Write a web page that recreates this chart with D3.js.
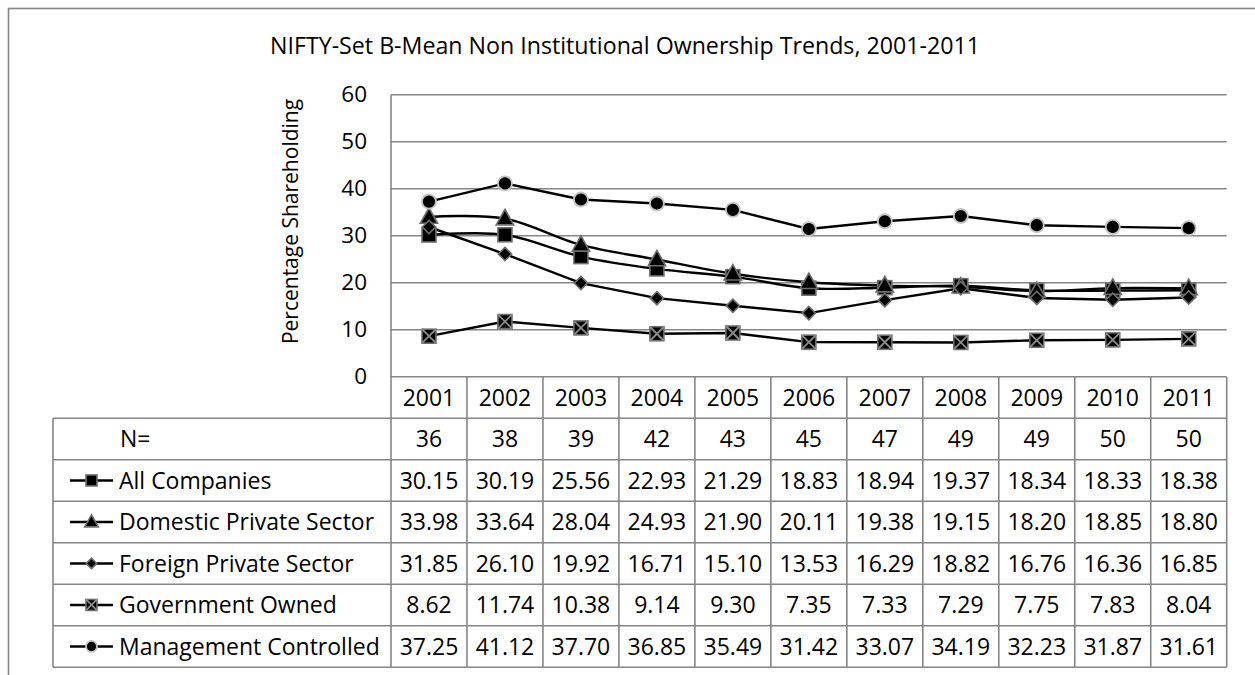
<!DOCTYPE html>
<html>
<head>
<meta charset="utf-8">
<script src="https://cdn.jsdelivr.net/npm/d3@7"></script>
<style>
  html, body { margin: 0; padding: 0; background: #fff; }
  svg { display: block; font-family: "Open Sans", "Noto Sans", sans-serif; }
</style>
</head>
<body>
<svg id="chart" width="1255" height="675"></svg>
<script>
// ---- data ----
const years = ["2001","2002","2003","2004","2005","2006","2007","2008","2009","2010","2011"];
const counts = [36, 38, 39, 42, 43, 45, 47, 49, 49, 50, 50];

const allCompanies   = [30.15, 30.19, 25.56, 22.93, 21.29, 18.83, 18.94, 19.37, 18.34, 18.33, 18.38];
const domesticPriv   = [33.98, 33.64, 28.04, 24.93, 21.90, 20.11, 19.38, 19.15, 18.20, 18.85, 18.80];
const foreignPriv    = [31.85, 26.10, 19.92, 16.71, 15.10, 13.53, 16.29, 18.82, 16.76, 16.36, 16.85];
const governmentOwn  = [8.62, 11.74, 10.38, 9.14, 9.30, 7.35, 7.33, 7.29, 7.75, 7.83, 8.04];
const mgmtControlled = [37.25, 41.12, 37.70, 36.85, 35.49, 31.42, 33.07, 34.19, 32.23, 31.87, 31.61];

const seriesNames = ["All Companies", "Domestic Private Sector", "Foreign Private Sector",
                     "Government Owned", "Management Controlled"];
const seriesValues = [allCompanies, domesticPriv, foreignPriv, governmentOwn, mgmtControlled];
const seriesMarkers = ["square", "triangle", "diamond", "xbox", "circle"];
const seriesSmooth = [true, true, false, false, false];

const yTicks = [0, 10, 20, 30, 40, 50, 60];

// ---- layout ----
const svg = d3.select("#chart");
const plotL = 391, plotR = 1226.7, plotT = 94.7, plotB = 376.7;
const tableL = 53;
const rowH = 41.5;
const gridColor = "#868686";
const fs = 23;

const x = d3.scaleBand().domain(years).range([plotL, plotR]).paddingInner(0).paddingOuter(0);
const xc = d => x(d) + x.bandwidth() / 2;
const y = d3.scaleLinear().domain([0, 60]).range([plotB, plotT]);

// outer chart border (extends past the right/bottom edge)
svg.append("rect")
  .attr("x", 8.5).attr("y", 8.5).attr("width", 1300).attr("height", 700)
  .attr("fill", "none").attr("stroke", gridColor).attr("stroke-width", 1.6);

// title
svg.append("text")
  .attr("x", 625).attr("y", 54)
  .attr("text-anchor", "middle")
  .attr("font-size", 23.2)
  .attr("fill", "#000")
  .text("NIFTY-Set B-Mean Non Institutional Ownership Trends, 2001-2011");

// y axis title
svg.append("text")
  .attr("transform", "translate(298,221.5) rotate(-90)")
  .attr("text-anchor", "middle")
  .attr("font-size", 21)
  .text("Percentage Shareholding");

// horizontal gridlines
const grid = svg.append("g");
grid.selectAll("line").data(yTicks.filter(t => t > 0)).join("line")
  .attr("x1", plotL).attr("x2", plotR)
  .attr("y1", d => y(d)).attr("y2", d => y(d))
  .attr("stroke", gridColor).attr("stroke-width", 1.6);

// y axis with labels
const yAxis = d3.axisLeft(y).tickValues(yTicks).tickSize(0).tickPadding(24);
const yg = svg.append("g").attr("transform", `translate(${plotL},0)`).call(yAxis);
yg.select(".domain").remove();
yg.selectAll("text").attr("font-size", 22.5).attr("font-family", "Open Sans").attr("fill", "#000");

// ---- data table ----
const nRows = 1 + seriesNames.length; // N= row + series rows
const yearTop = plotB, yearBot = plotB + rowH;
const tableBot = yearBot + nRows * rowH;

const tbl = svg.append("g").attr("stroke", gridColor).attr("stroke-width", 1.6);
// plot bottom line / year row top
tbl.append("line").attr("x1", plotL).attr("x2", plotR).attr("y1", plotB).attr("y2", plotB);
// row separators
for (let i = 0; i <= nRows; i++) {
  const yy = yearBot + i * rowH;
  tbl.append("line").attr("x1", tableL).attr("x2", plotR).attr("y1", yy).attr("y2", yy);
}
// left edges
tbl.append("line").attr("x1", tableL).attr("x2", tableL).attr("y1", yearBot).attr("y2", tableBot);
tbl.append("line").attr("x1", plotL).attr("x2", plotL).attr("y1", plotT).attr("y2", tableBot);
// column separators
years.forEach(yr => {
  const xx = x(yr) + x.bandwidth();
  tbl.append("line").attr("x1", xx).attr("x2", xx).attr("y1", plotB).attr("y2", tableBot);
});

// year labels
svg.append("g").selectAll("text").data(years).join("text")
  .attr("x", d => xc(d)).attr("y", (yearTop + yearBot) / 2).attr("dy", "0.36em")
  .attr("text-anchor", "middle").attr("font-size", fs).text(d => d);

// N= row
const nRowY = yearBot + rowH / 2;
svg.append("text").attr("x", 120).attr("y", nRowY).attr("dy", "0.36em")
  .attr("font-size", fs).text("N=");
svg.append("g").selectAll("text").data(counts).join("text")
  .attr("x", (d, i) => xc(years[i])).attr("y", nRowY).attr("dy", "0.36em")
  .attr("text-anchor", "middle").attr("font-size", fs).text(d => d);

// ---- markers ----
function drawMarker(g, type, s) {
  const h = s / 2;
  if (type === "square") {
    g.append("rect").attr("x", -h).attr("y", -h).attr("width", s).attr("height", s)
      .attr("fill", "#000").attr("stroke", "#6e6e6e").attr("stroke-width", 1.6);
  } else if (type === "triangle") {
    const r = s * 0.62;
    g.append("path").attr("d", `M0,${-r * 1.05} L${r},${r * 0.72} L${-r},${r * 0.72} Z`)
      .attr("fill", "#000").attr("stroke", "#6e6e6e").attr("stroke-width", 1.6);
  } else if (type === "diamond") {
    const r = h * 0.95;
    g.append("path").attr("d", `M0,${-r} L${r},0 L0,${r} L${-r},0 Z`)
      .attr("fill", "#000").attr("stroke", "#6e6e6e").attr("stroke-width", 1.6);
  } else if (type === "xbox") {
    g.append("rect").attr("x", -h).attr("y", -h).attr("width", s).attr("height", s)
      .attr("fill", "#000").attr("stroke", "#6e6e6e").attr("stroke-width", 1.6);
    g.append("path").attr("d", `M${-h},${-h} L${h},${h} M${h},${-h} L${-h},${h}`)
      .attr("stroke", "#8a8a8a").attr("stroke-width", 1.8);
  } else if (type === "circle") {
    g.append("circle").attr("r", h)
      .attr("fill", "#000").attr("stroke", "#c4c4c4").attr("stroke-width", 1.8);
  }
}

// ---- series lines and markers ----
const plot = svg.append("g");
seriesValues.forEach((vals, si) => {
  const pts = vals.map((v, i) => [xc(years[i]), y(v)]);
  const line = d3.line().curve(seriesSmooth[si] ? d3.curveCardinal.tension(0) : d3.curveLinear);
  plot.append("path").attr("d", line(pts))
    .attr("fill", "none").attr("stroke", "#000").attr("stroke-width", 2.4);
});
seriesValues.forEach((vals, si) => {
  vals.forEach((v, i) => {
    const g = plot.append("g").attr("transform", `translate(${xc(years[i])},${y(v)})`);
    drawMarker(g, seriesMarkers[si], 14);
  });
});

// ---- series rows in the table (legend key + values) ----
seriesNames.forEach((name, si) => {
  const ry = yearBot + (si + 1) * rowH + rowH / 2;
  svg.append("line").attr("x1", 70).attr("x2", 113).attr("y1", ry).attr("y2", ry)
    .attr("stroke", "#000").attr("stroke-width", 2.4);
  const g = svg.append("g").attr("transform", `translate(91.5,${ry})`);
  drawMarker(g, seriesMarkers[si], 11);
  svg.append("text").attr("x", 119).attr("y", ry).attr("dy", "0.36em")
    .attr("font-size", fs).text(name);
  svg.append("g").selectAll("text").data(seriesValues[si]).join("text")
    .attr("x", (d, i) => xc(years[i])).attr("y", ry).attr("dy", "0.36em")
    .attr("text-anchor", "middle").attr("font-size", fs).text(d => d.toFixed(2));
});
</script>
</body>
</html>
